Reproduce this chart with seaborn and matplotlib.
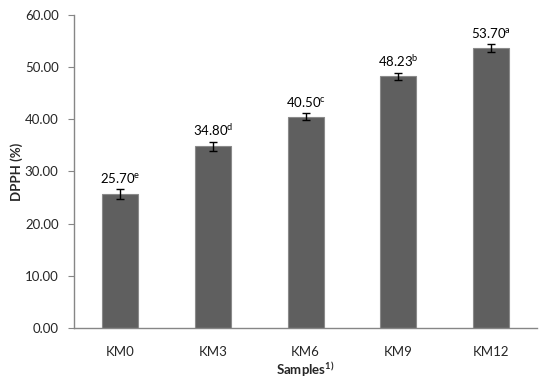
import matplotlib
matplotlib.use("Agg")
import matplotlib.pyplot as plt
import seaborn as sns
import pandas as pd

samples = ["KM0", "KM3", "KM6", "KM9", "KM12"]
dpph = [25.70, 34.80, 40.50, 48.23, 53.70]
errors = [0.9, 0.8, 0.7, 0.7, 0.8]
letters = ["e", "d", "c", "b", "a"]
yticks = [0, 10, 20, 30, 40, 50, 60]

sns.set_theme(style="white")
plt.rcParams["font.family"] = ["Lato", "DejaVu Sans"]
plt.rcParams["mathtext.fontset"] = "custom"
plt.rcParams["mathtext.rm"] = "Lato"
plt.rcParams["mathtext.bf"] = "Lato:bold"
plt.rcParams["mathtext.default"] = "regular"

df = pd.DataFrame({"Samples": samples, "DPPH": dpph})

fig = plt.figure(figsize=(5.39, 3.79), dpi=100)
ax = fig.add_axes([0.137, 0.135, 0.86, 0.825])
sns.barplot(data=df, x="Samples", y="DPPH", color="#5f5f5f", width=0.39,
            saturation=1, edgecolor="#8a8a8a", linewidth=0.8, ax=ax, errorbar=None)
xs = list(range(len(samples)))
ax.errorbar(xs, dpph, yerr=errors, fmt="none", ecolor="black", elinewidth=1,
            capsize=3, capthick=1)
for x, v, e, l in zip(xs, dpph, errors, letters):
    ax.annotate(f"{v:.2f}$^{{{l}}}$", (x, v + e), xytext=(0, 3),
                textcoords="offset points", ha="center", va="bottom",
                fontsize=9.5, color="black")

ax.set_ylim(0, 60)
ax.set_xlim(-0.5, 4.5)
ax.set_yticks(yticks)
ax.set_yticklabels([f"{t:.2f}" for t in yticks], fontsize=9.5)
ax.tick_params(axis="x", labelsize=9.5, length=0, pad=13)
ax.tick_params(axis="y", length=4, width=0.8, color="#868686", direction="out", pad=7, left=True)
for s in ["top", "right"]:
    ax.spines[s].set_visible(False)
for s in ["left", "bottom"]:
    ax.spines[s].set_color("#868686")
    ax.spines[s].set_linewidth(1)
ax.set_xlabel("Samples$^{1)}$", fontsize=9.5, fontweight="bold", labelpad=2)
ax.set_ylabel("DPPH (%)", fontsize=9.5, fontweight="bold", labelpad=1)
fig.savefig("out.png", dpi=100)
